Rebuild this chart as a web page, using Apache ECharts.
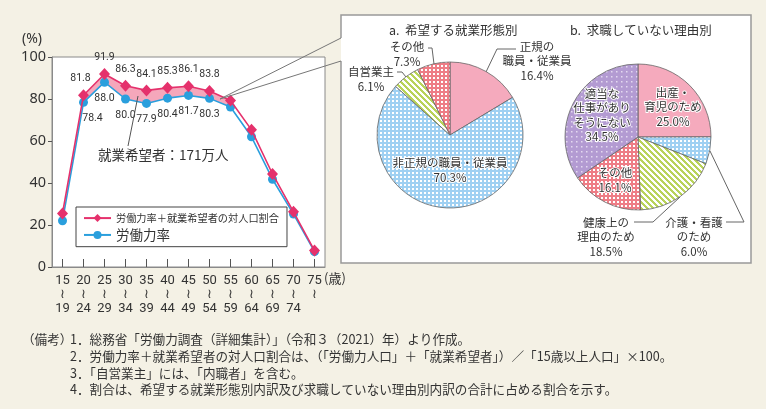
<!DOCTYPE html>
<html><head><meta charset="utf-8">
<script src="https://cdn.jsdelivr.net/npm/echarts@6/dist/echarts.min.js"></script>
<style>html,body{margin:0;padding:0;background:#f4f1e5;}#c{width:766px;height:409px;}</style>
</head><body><div id="c"></div>
<script>
// ---- data ----
const ageStart = ['15','20','25','30','35','40','45','50','55','60','65','70','75'];
const ageEnd   = ['19','24','29','34','39','44','49','54','59','64','69','74',''];
const rateWithHopefuls = [25.5, 81.8, 91.9, 86.3, 84.1, 85.3, 86.1, 83.8, 79.3, 65.3, 44.3, 26.3, 7.8];
const laborRate        = [22.0, 78.4, 88.0, 80.0, 77.9, 80.4, 81.7, 80.3, 76.2, 62.0, 41.8, 25.2, 7.3];
const labeledIdx = [1,2,3,4,5,6,7];
const bandIdx = [1,2,3,4,5,6,7,8];
const yTicks = [0,20,40,60,80,100];

const formNames  = ['正規の職員・従業員','非正規の職員・従業員','自営業主','その他'];
const formLabels = ['正規の\n職員・従業員','非正規の職員・従業員','自営業主','その他'];
const formShares = [16.4, 70.3, 6.1, 7.3];

const reasonNames  = ['出産・育児のため','介護・看護のため','健康上の理由のため','その他','適当な仕事がありそうにない'];
const reasonLabels = ['出産・\n育児のため','介護・看護\nのため','健康上の\n理由のため','その他','適当な\n仕事があり\nそうにない'];
const reasonShares = [25.0, 6.0, 18.5, 16.1, 34.5];

const notes = [
  '（備考）',
  '1．総務省「労働力調査（詳細集計）」（令和３（2021）年）より作成。',
  '2．労働力率＋就業希望者の対人口割合は、（「労働力人口」＋「就業希望者」）／「15歳以上人口」×100。',
  '3．「自営業主」には、「内職者」を含む。',
  '4．割合は、希望する就業形態別内訳及び求職していない理由別内訳の合計に占める割合を示す。'
];

// ---- patterns ----
function pat(w,h,draw){const c=document.createElement('canvas');c.width=w;c.height=h;const g=c.getContext('2d');draw(g);return {image:c,repeat:'repeat'};}
const pPink = '#f5aabd';
const pBlue = pat(4,4,g=>{g.fillStyle='#9fd0f2';g.fillRect(0,0,4,4);g.fillStyle='#fff';g.fillRect(0,0,2,2);});
const pRed  = pat(4,4,g=>{g.fillStyle='#ee7d86';g.fillRect(0,0,4,4);g.fillStyle='#fff';g.fillRect(1,1,2,2);});
const pGreen= pat(6,6,g=>{g.fillStyle='#fff';g.fillRect(0,0,6,6);g.fillStyle='#b9d35a';for(let x=0;x<6;x++)for(let y=0;y<6;y++){if(((x-y)%6+6)%6<3)g.fillRect(x,y,1,1);}});
const pPurple=pat(5,5,g=>{g.fillStyle='#b39bd2';g.fillRect(0,0,5,5);g.fillStyle='#e4d9f0';g.fillRect(1,1,1.5,1.5);});

const FONT = '"Noto Sans CJK JP","Noto Sans",sans-serif';
const NUMF = 'Roboto,"Noto Sans",sans-serif';
const TXT = '#333';
const RED = '#e5316c', BLUE = '#2a9fdd';

const band = laborRate.map((v,i)=>bandIdx.includes(i)?v:'-');
const bandDiff = laborRate.map((v,i)=>bandIdx.includes(i)?+(rateWithHopefuls[i]-v).toFixed(1):'-');

const chart = echarts.init(document.getElementById('c'), null, {renderer:'canvas'});

const formLayout = [
  {x:537,y:61,line:[[486,72],[497,49],[516,49]]},
  {x:450,y:170},
  {x:371,y:79,line:[[406,77],[402,72],[397,72]]},
  {x:407,y:54,line:[[434,64],[432,48],[428,48]]}
];
const reasonLayout = [
  {x:673,y:107},
  {x:694,y:237,line:[[710,151],[744,222],[726,222]]},
  {x:606,y:237,line:[[680,197],[653,222],[634,222]]},
  {x:615,y:180},
  {x:602,y:115}
];
function layoutFn(tbl){return p=>{const t=tbl[p.dataIndex];const r={x:t.x,y:t.y,align:'center',verticalAlign:'middle'};if(t.line)r.labelLinePoints=t.line;return r;};}

const pieLabel = {color:TXT,fontFamily:FONT,fontSize:11.5,lineHeight:14.5,textBorderColor:'#fff',textBorderWidth:2,width:140,overflow:'none',align:'center'};

const option = {
  backgroundColor:'#f4f1e5',
  animation:false,
  title:[
    {text:'a.  希望する就業形態別',left:384,top:19,textStyle:{fontFamily:FONT,fontSize:12.5,fontWeight:'normal',color:TXT}},
    {text:'b.  求職していない理由別',left:565,top:19,textStyle:{fontFamily:FONT,fontSize:12.5,fontWeight:'normal',color:TXT}}
  ],
  grid:{left:52,top:57,right:441,bottom:142,show:true,backgroundColor:'#fff',borderColor:'#8a8a8a',borderWidth:1},
  legend:{
    data:['労働力率＋就業希望者の対人口割合','労働力率'],
    orient:'vertical',left:76,top:207,padding:[6,8,5,7],itemGap:5,itemWidth:27,itemHeight:10,
    backgroundColor:'#fff',borderColor:'#444',borderWidth:1,borderRadius:0,
    formatter:n=>n==='労働力率'?'{b|'+n+'}':'{s|'+n+'}',
    textStyle:{color:TXT,fontFamily:FONT,rich:{s:{fontSize:10.2,fontFamily:FONT,color:TXT},b:{fontSize:13.5,fontFamily:FONT,color:TXT}}}
  },
  xAxis:{
    type:'category',data:ageStart,boundaryGap:true,
    axisLine:{show:true,lineStyle:{color:'#8a8a8a'}},
    axisTick:{show:true,inside:true,length:8,alignWithLabel:true,lineStyle:{color:'#555'}},
    axisLabel:{interval:0,margin:7,color:TXT,fontFamily:NUMF,fontSize:13,lineHeight:14,
      formatter:(v,i)=>ageEnd[i]?v+'\n≀\n'+ageEnd[i]:v+'\n≀'}
  },
  yAxis:{
    type:'value',min:0,max:100,interval:20,
    axisLine:{show:true,lineStyle:{color:'#8a8a8a'}},
    axisTick:{show:true,inside:false,length:4,lineStyle:{color:'#555'}},
    splitLine:{show:false},
    axisLabel:{margin:6,color:TXT,fontFamily:'"Noto Sans",sans-serif',fontSize:14.5,formatter:v=>yTicks.includes(v)?String(v):''}
  },
  series:[
    {name:'band',type:'line',stack:'band',data:band,symbol:'none',lineStyle:{opacity:0},silent:true,z:1},
    {name:'bandDiff',type:'line',stack:'band',data:bandDiff,symbol:'none',lineStyle:{opacity:0},areaStyle:{color:'#f5a7bb',opacity:1},silent:true,z:1},
    {name:'労働力率＋就業希望者の対人口割合',type:'line',data:rateWithHopefuls.map((v,i)=>({value:v,label:{show:labeledIdx.includes(i),offset:i===1?[-3,0]:[0,0]}})),
      symbol:'diamond',symbolSize:[11,12],itemStyle:{color:RED},lineStyle:{color:RED,width:1.6},z:4,
      label:{position:'top',distance:5,color:TXT,fontFamily:NUMF,fontSize:10.5,formatter:p=>p.value.toFixed(1)}},
    {name:'労働力率',type:'line',data:laborRate.map((v,i)=>({value:v,label:{show:labeledIdx.includes(i),offset:i===1?[9,0]:[0,0]}})),
      symbol:'circle',symbolSize:9,itemStyle:{color:BLUE},lineStyle:{color:BLUE,width:1.6},z:3,
      label:{position:'bottom',distance:6,color:TXT,fontFamily:NUMF,fontSize:10.5,formatter:p=>p.value.toFixed(1)}},
    {name:'a',type:'pie',center:[450,135],radius:73,startAngle:90,clockwise:true,silent:true,z:5,
      itemStyle:{borderColor:'#666',borderWidth:0.8},
      label:Object.assign({formatter:p=>formLabels[p.dataIndex]+'\n'+p.value.toFixed(1)+'%'},pieLabel),
      labelLine:{show:true,lineStyle:{color:'#666',width:1}},
      labelLayout:layoutFn(formLayout),
      data:formShares.map((v,i)=>({name:formNames[i],value:v,itemStyle:{color:[pPink,pBlue,pGreen,pRed][i]},
        label:{position:formLayout[i].line?'outside':'inside'},labelLine:{show:!!formLayout[i].line}}))},
    {name:'b',type:'pie',center:[638,137],radius:73,startAngle:90,clockwise:true,silent:true,z:5,
      itemStyle:{borderColor:'#666',borderWidth:0.8},
      label:Object.assign({formatter:p=>reasonLabels[p.dataIndex]+'\n'+p.value.toFixed(1)+'%'},pieLabel),
      labelLine:{show:true,lineStyle:{color:'#666',width:1}},
      labelLayout:layoutFn(reasonLayout),
      data:reasonShares.map((v,i)=>({name:reasonNames[i],value:v,itemStyle:{color:[pPink,pBlue,pGreen,pRed,pPurple][i]},
        label:{position:reasonLayout[i].line?'outside':'inside'},labelLine:{show:!!reasonLayout[i].line}}))}
  ],
  graphic:[
    {type:'rect',z:0,zlevel:0,shape:{x:341,y:15,width:410,height:248},style:{fill:'#fff'}},
    {type:'polyline',z:0,shape:{points:[[341,38],[341,15],[751,15],[751,263],[341,263],[341,61]]},style:{stroke:'#999',lineWidth:1.5,fill:null}},
    {type:'polyline',z:10,shape:{points:[[341,38],[220,99],[341,61]]},style:{stroke:'#777',lineWidth:1,fill:null}},
    {type:'line',z:10,shape:{x1:128,y1:146,x2:138,y2:96},style:{stroke:'#555',lineWidth:1}},
    {type:'text',z:10,left:98,top:148,style:{text:'就業希望者：171万人',fill:TXT,font:'13.5px '+FONT}},
    {type:'text',z:10,left:22,top:32,style:{text:'(%)',fill:TXT,font:'14px "Noto Sans",sans-serif'}},
    {type:'text',z:10,left:324,top:272,style:{text:'(歳)',fill:TXT,font:'13px '+FONT}},
    {type:'text',left:22,top:333,style:{text:notes[0],fill:TXT,font:'12.6px '+FONT}},
    ...notes.slice(1).map((t,i)=>({type:'text',left:70,top:333+i*16.8,style:{text:t,fill:TXT,font:'12.6px '+FONT}}))
  ]
};
chart.setOption(option);
</script></body></html>
